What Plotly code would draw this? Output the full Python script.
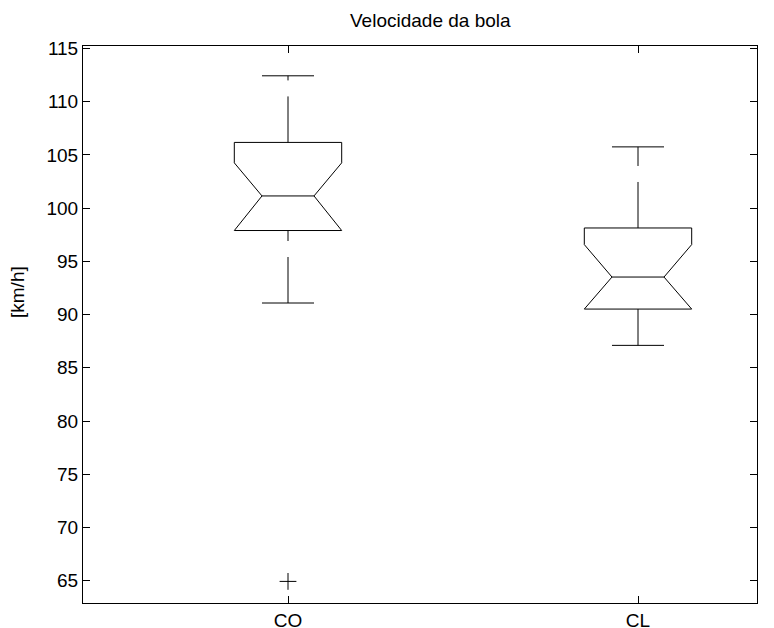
import plotly.graph_objects as go

# ---- data ----
categories = ["CO", "CL"]
positions = [1, 2]
q1 = [97.90, 90.52]
median = [101.15, 93.53]
q3 = [106.18, 98.14]
notch_lo = [97.90, 90.52]
notch_hi = [104.26, 96.58]
whisker_lo = [91.09, 87.11]
whisker_hi = [112.44, 105.76]
outlier_x = ["CO"]
outlier_y = [64.93]
y_ticks = [65, 70, 75, 80, 85, 90, 95, 100, 105, 110, 115]

# ---- style ----
BOX_HALF = 0.1534
NOTCH_HALF = 0.0743
CAP_HALF = 0.0743
LINE = dict(color="black", width=1)
FONT = "Liberation Sans, Arial, sans-serif"
FS = 19

# page body has an 8px margin; compensate so the plot area lands at
# screen x 83..757, y 46..603
OFF = 8
W, H = 774 - OFF, 628 - OFF
L, R, T, B = 83 - OFF, 17, 46 - OFF, 25
PW, PH = W - L - R, H - T - B
SX0, SY1 = 83, 603  # screen coords of plot-area left / bottom


def px_to_paper(sx, sy):
    return (sx - SX0) / PW, (SY1 - sy) / PH


fig = go.Figure()

for i, cat in enumerate(categories):
    c = positions[i]
    w, nw = BOX_HALF, NOTCH_HALF
    xs = [c - w, c + w, c + w, c + nw, c + w, c + w, c - w, c - w, c - nw, c - w, c - w]
    ys = [q3[i], q3[i], notch_hi[i], median[i], notch_lo[i], q1[i], q1[i],
          notch_lo[i], median[i], notch_hi[i], q3[i]]
    fig.add_trace(go.Scatter(x=xs, y=ys, mode="lines", line=LINE,
                             hoverinfo="skip", showlegend=False))
    fig.add_trace(go.Scatter(x=[c - nw, c + nw], y=[median[i], median[i]], mode="lines",
                             line=LINE, hoverinfo="skip", showlegend=False))
    fig.add_trace(go.Scatter(x=[c, c], y=[q3[i], whisker_hi[i]], mode="lines",
                             line=dict(color="black", width=1, dash="46px,16px"),
                             hoverinfo="skip", showlegend=False))
    fig.add_trace(go.Scatter(x=[c, c], y=[whisker_lo[i], q1[i]], mode="lines",
                             line=dict(color="black", width=1, dash="46px,16px"),
                             hoverinfo="skip", showlegend=False))
    for v in (whisker_hi[i], whisker_lo[i]):
        fig.add_trace(go.Scatter(x=[c - CAP_HALF, c + CAP_HALF], y=[v, v], mode="lines",
                                 line=LINE, hoverinfo="skip", showlegend=False))

fig.add_trace(go.Scatter(
    x=[positions[categories.index(k)] for k in outlier_x], y=outlier_y,
    mode="markers",
    marker=dict(symbol="cross-thin", size=12, line=dict(color="black", width=1)),
    showlegend=False))

tx, ty = px_to_paper(431, 21)
lx, ly = px_to_paper(17, 292)
fig.update_layout(
    width=W, height=H,
    margin=dict(l=L, r=R, t=T, b=B, autoexpand=False),
    paper_bgcolor="white", plot_bgcolor="white",
    font=dict(family=FONT, size=FS, color="black"),
    showlegend=False,
    annotations=[
        dict(text="Velocidade da bola", xref="paper", yref="paper",
             x=tx, y=ty, xanchor="center", yanchor="middle",
             showarrow=False, font=dict(size=FS)),
        dict(text="[km/h]", xref="paper", yref="paper", textangle=-90,
             x=lx, y=ly, xanchor="center", yanchor="middle",
             showarrow=False, font=dict(size=FS)),
    ],
)
fig.update_xaxes(range=[0.4143, 2.34], tickvals=positions, ticktext=categories,
                 showgrid=False, zeroline=False, showline=True, linecolor="black",
                 linewidth=1, mirror="ticks", ticks="inside", ticklen=7,
                 tickcolor="black", tickfont=dict(size=FS), automargin=False)
fig.update_yaxes(range=[62.9, 115.24], tickvals=y_ticks,
                 showgrid=False, zeroline=False, showline=True, linecolor="black",
                 linewidth=1, mirror="ticks", ticks="inside", ticklen=7,
                 tickcolor="black", tickfont=dict(size=FS), automargin=False)

fig.write_html("out.html")
